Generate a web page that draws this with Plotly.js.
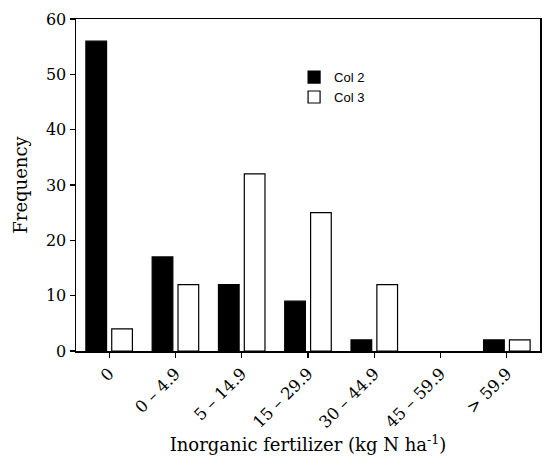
<!DOCTYPE html>
<html>
<head>
<meta charset="utf-8">
<script src="https://cdn.plot.ly/plotly-3.0.1.min.js"></script>
<style>
  html, body { margin: 0; padding: 0; background: #fff; }
  #chart { width: 550px; height: 462px; }
</style>
</head>
<body>
<div id="chart"></div>
<script>
// fertilizer classes and the two frequency series
const categories = ['0', '0 \u2013 4.9', '5 \u2013 14.9', '15 \u2013 29.9', '30 \u2013 44.9', '45 \u2013 59.9', '> 59.9'];
const col2 = [56, 17, 12, 9, 2, 0, 2];
const col3 = [4, 12, 32, 25, 12, 0, 2];
const yTicks = [0, 10, 20, 30, 40, 50, 60];

const serif = 'DejaVu Serif, Liberation Serif, serif';

// empty classes get no outline, so no sliver is drawn at zero
const outline = vals => vals.map(v => (v > 0 ? 1.2 : 0));

const traceCol2 = {
    x: categories,
    y: col2,
    type: 'bar',
    name: 'Col 2',
    marker: { color: '#000000', line: { color: '#000000', width: outline(col2) } },
    hoverinfo: 'x+y'
};

const traceCol3 = {
    x: categories,
    y: col3,
    type: 'bar',
    name: 'Col 3',
    marker: { color: '#ffffff', line: { color: '#000000', width: outline(col3) } },
    hoverinfo: 'x+y'
};

const layout = {
    width: 550,
    height: 462,
    paper_bgcolor: '#ffffff',
    plot_bgcolor: '#ffffff',
    margin: { l: 76, r: 10, t: 19, b: 111 },
    barmode: 'group',
    bargap: 0.22,
    bargroupgap: 0.2,
    showlegend: true,
    legend: {
        x: 0.47, y: 0.87, xanchor: 'left', yanchor: 'top',
        bgcolor: 'rgba(0,0,0,0)',
        font: { family: 'Liberation Sans, Arial, sans-serif', size: 13, color: '#000' },
        tracegroupgap: 0, itemwidth: 30
    },
    xaxis: {
        type: 'category',
        range: [-0.5, 6.5],
        showline: true, linecolor: '#000', linewidth: 1.5, mirror: true,
        ticks: 'outside', ticklen: 5, tickwidth: 1.2, tickcolor: '#000',
        tickangle: -45,
        tickfont: { family: serif, size: 16.5, color: '#000' },
        showgrid: false, zeroline: false,
        title: { text: 'Inorganic fertilizer (kg N ha<sup>-1</sup>)', font: { family: serif, size: 18, color: '#000' }, standoff: 7 }
    },
    yaxis: {
        range: [0, 60],
        tickvals: yTicks,
        showline: true, linecolor: '#000', linewidth: 1.5, mirror: true,
        ticks: 'outside', ticklen: 5, tickwidth: 1.2, tickcolor: '#000',
        tickfont: { family: serif, size: 16, color: '#000' },
        showgrid: false, zeroline: false,
        title: { text: 'Frequency', font: { family: serif, size: 18, color: '#000' }, standoff: 13 }
    }
};

Plotly.newPlot('chart', [traceCol2, traceCol3], layout, { displayModeBar: false, staticPlot: true });
</script>
</body>
</html>
